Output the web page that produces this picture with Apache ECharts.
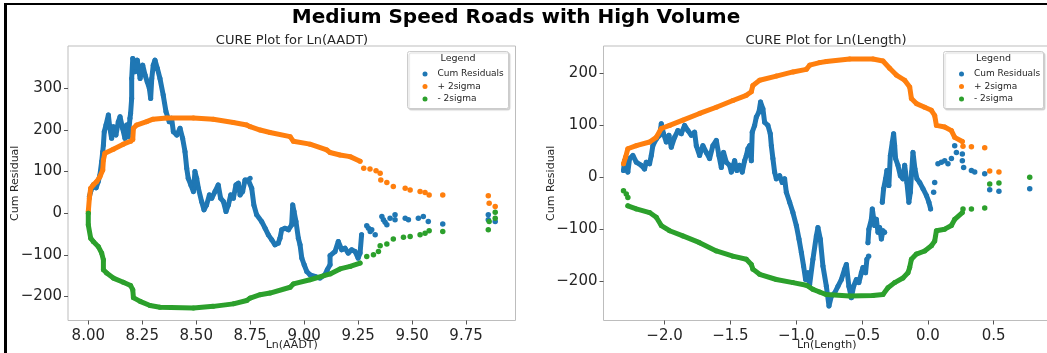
<!DOCTYPE html>
<html>
<head>
<meta charset="utf-8">
<script src="https://cdn.jsdelivr.net/npm/echarts@6/dist/echarts.min.js"></script>
<style>
  html, body { margin: 0; padding: 0; background: #fff; }
  #chart { width: 1047px; height: 353px; }
</style>
</head>
<body>
<div id="chart"></div>
<script>
// ---- data ----
// left panel: Ln(AADT)
var aadtTicks = [8.00, 8.25, 8.50, 8.75, 9.00, 9.25, 9.50, 9.75];
var aadtResidTicks = [-200, -100, 0, 100, 200, 300];

var aadtResid = [[8.005,40],[8.011,52],[8.023,68],[8.036,61],[8.046,76],[8.054,92],[8.062,124],[8.067,148],[8.070,164],[8.074,196],[8.082,212],[8.093,236],[8.100,204],[8.108,180],[8.116,208],[8.128,188],[8.139,220],[8.147,232],[8.159,204],[8.170,180],[8.178,212],[8.185,184],[8.193,228],[8.196,240],[8.201,276],[8.201,324],[8.206,372],[8.216,340],[8.227,368],[8.240,324],[8.252,356],[8.263,332],[8.273,316],[8.283,300],[8.289,276],[8.294,324],[8.301,356],[8.309,368],[8.320,348],[8.332,324],[8.347,284],[8.360,244],[8.375,220],[8.386,228],[8.394,196],[8.410,188],[8.425,204],[8.437,180],[8.448,148],[8.456,108],[8.463,84],[8.475,68],[8.487,52],[8.494,100],[8.502,84],[8.510,60],[8.525,28],[8.536,8],[8.548,20],[8.561,44],[8.572,36],[8.587,52],[8.602,68],[8.613,36],[8.626,28],[8.638,4],[8.649,20],[8.660,44],[8.672,36],[8.684,68],[8.695,72],[8.703,44],[8.715,52],[8.726,80],[8.741,80],[8.750,84],[8.757,60],[8.767,20],[8.780,-4],[8.803,-20],[8.819,-36],[8.834,-52],[8.850,-64],[8.865,-76],[8.880,-72],[8.888,-60],[8.896,-40],[8.911,-36],[8.927,-40],[8.942,-28],[8.947,20],[8.953,4],[8.962,-20],[8.973,-60],[8.981,-76],[8.989,-108],[9.000,-124],[9.012,-140],[9.027,-148],[9.050,-152],[9.073,-156],[9.096,-148],[9.107,-136],[9.120,-124],[9.120,-102],[9.143,-92],[9.158,-68],[9.174,-88],[9.189,-84],[9.204,-96],[9.220,-88],[9.236,-92],[9.250,-108],[9.259,-96],[9.266,-52]];
var aadtResidDots = [[9.290,-30],[9.298,-36],[9.306,-44],[9.313,-40],[9.329,-52],[9.360,-8],[9.367,-16],[9.375,-22],[9.383,-28],[9.398,-12],[9.421,-4],[9.421,-16],[9.468,-12],[9.483,-16],[9.529,-12],[9.552,-8],[9.575,-20],[9.642,-26],[9.853,-4],[9.853,-16],[9.885,-20]];

var aadtUpper = [[8.000,4],[8.005,36],[8.011,60],[8.023,68],[8.039,76],[8.054,88],[8.067,104],[8.070,128],[8.077,144],[8.116,154],[8.162,166],[8.196,173],[8.206,177],[8.209,204],[8.224,212],[8.270,220],[8.300,226],[8.363,229],[8.487,229],[8.579,226],[8.672,218],[8.734,212],[8.750,208],[8.796,200],[8.842,194],[8.935,184],[8.950,173],[9.027,166],[9.105,152],[9.120,146],[9.166,140],[9.213,136],[9.259,125]];
var aadtUpperDots = [[9.276,108],[9.305,106],[9.333,102],[9.352,96],[9.355,80],[9.383,74],[9.413,64],[9.468,60],[9.491,56],[9.537,52],[9.560,50],[9.579,44],[9.642,44],[9.853,42],[9.857,24],[9.885,16]];

var aadtLower = [[8.000,0],[8.000,-28],[8.011,-60],[8.023,-68],[8.046,-80],[8.062,-96],[8.070,-112],[8.070,-136],[8.085,-144],[8.116,-156],[8.162,-166],[8.196,-174],[8.206,-184],[8.209,-203],[8.240,-212],[8.286,-222],[8.332,-226],[8.487,-228],[8.579,-224],[8.672,-218],[8.734,-210],[8.750,-204],[8.796,-196],[8.842,-192],[8.935,-178],[8.950,-170],[9.027,-160],[9.120,-146],[9.166,-134],[9.213,-128],[9.259,-120]];
var aadtLowerDots = [[9.290,-104],[9.321,-100],[9.344,-92],[9.352,-78],[9.383,-74],[9.413,-62],[9.460,-58],[9.491,-56],[9.537,-52],[9.560,-48],[9.579,-42],[9.642,-44],[9.853,-40],[9.857,-20],[9.885,-12],[9.885,2]];

// right panel: Ln(Length)
var lenTicks = [-2.0, -1.5, -1.0, -0.5, 0.0, 0.5];
var lenResidTicks = [-200, -100, 0, 100, 200];

var lenResidA = [[-2.312,13],[-2.304,32],[-2.279,10],[-2.266,36],[-2.241,42],[-2.215,29],[-2.177,23],[-2.152,16],[-2.139,29],[-2.114,26],[-2.101,42],[-2.089,61],[-2.063,74],[-2.038,81],[-2.025,103],[-2.008,84],[-1.987,68],[-1.967,81],[-1.949,58],[-1.924,77],[-1.899,90],[-1.873,84],[-1.848,100],[-1.823,90],[-1.797,81],[-1.772,87],[-1.759,61],[-1.734,42],[-1.709,61],[-1.683,48],[-1.658,36],[-1.633,61],[-1.607,71],[-1.587,42],[-1.569,19],[-1.552,48],[-1.531,29],[-1.506,23],[-1.493,10],[-1.468,32],[-1.451,13],[-1.430,23],[-1.410,10],[-1.392,32],[-1.379,42],[-1.367,55],[-1.354,61],[-1.341,32],[-1.334,87],[-1.316,100],[-1.303,116],[-1.283,126],[-1.271,145],[-1.253,132],[-1.240,106],[-1.215,100],[-1.197,84],[-1.189,61],[-1.177,36],[-1.164,10],[-1.151,-3],[-1.126,3],[-1.106,-10],[-1.088,-3],[-1.075,-29],[-1.050,-48],[-1.025,-68],[-0.999,-93],[-0.979,-119],[-0.961,-145],[-0.944,-171],[-0.929,-197],[-0.911,-184],[-0.898,-207],[-0.873,-158],[-0.847,-113],[-0.835,-97],[-0.817,-119],[-0.797,-171],[-0.771,-210],[-0.751,-248],[-0.733,-229],[-0.708,-223],[-0.683,-210],[-0.657,-197],[-0.632,-177],[-0.619,-168],[-0.600,-210],[-0.581,-232],[-0.564,-210],[-0.543,-197],[-0.524,-203],[-0.505,-184],[-0.493,-174],[-0.473,-184],[-0.463,-158]];
var lenResidB = [[-0.455,-126],[-0.448,-100],[-0.429,-81],[-0.422,-61],[-0.404,-93],[-0.391,-81],[-0.379,-106],[-0.366,-97],[-0.353,-119],[-0.341,-103],[-0.328,-106]];
var lenResidC = [[-0.346,-48],[-0.336,-22],[-0.321,-3],[-0.311,13],[-0.296,-16],[-0.285,42],[-0.270,68],[-0.260,84],[-0.252,61],[-0.245,36],[-0.227,23],[-0.209,3],[-0.189,-3],[-0.176,23],[-0.159,-10],[-0.144,-48],[-0.133,-29],[-0.123,10],[-0.113,48],[-0.098,16],[-0.083,-3],[-0.062,-10],[-0.037,-22],[-0.011,-35],[0.008,-48],[0.021,-61]];
var lenResidDots = [[-0.450,-152],[0.044,-29],[0.052,-10],[0.077,26],[0.103,29],[0.128,32],[0.153,26],[0.179,36],[0.204,61],[0.217,48],[0.262,45],[0.262,32],[0.272,19],[0.331,13],[0.356,10],[0.432,7],[0.470,-24],[0.540,-27],[0.774,-22]];

var lenUpper = [[-2.312,26],[-2.296,39],[-2.279,55],[-2.215,61],[-2.114,68],[-2.063,77],[-2.025,94],[-1.962,100],[-1.861,110],[-1.734,123],[-1.607,135],[-1.481,148],[-1.379,158],[-1.341,165],[-1.329,177],[-1.278,187],[-1.151,195],[-1.025,203],[-0.923,208],[-0.898,216],[-0.822,221],[-0.771,223],[-0.594,228],[-0.417,228],[-0.341,224],[-0.290,210],[-0.239,197],[-0.176,187],[-0.138,174],[-0.125,152],[-0.087,142],[-0.024,135],[0.027,129],[0.052,119],[0.065,100],[0.128,97],[0.179,90],[0.204,77],[0.262,69]];
var lenUpperDots = [[0.267,60],[0.331,59],[0.432,57],[0.470,12],[0.540,10]];

var lenLower = [[-2.279,-55],[-2.215,-61],[-2.114,-68],[-2.063,-77],[-2.025,-93],[-1.962,-103],[-1.861,-113],[-1.734,-126],[-1.607,-142],[-1.481,-152],[-1.379,-158],[-1.341,-168],[-1.329,-177],[-1.278,-187],[-1.151,-197],[-1.025,-203],[-0.923,-208],[-0.873,-216],[-0.822,-221],[-0.771,-226],[-0.594,-229],[-0.417,-228],[-0.341,-226],[-0.303,-213],[-0.252,-203],[-0.189,-194],[-0.151,-184],[-0.138,-174],[-0.125,-158],[-0.087,-148],[-0.024,-142],[0.027,-132],[0.052,-123],[0.065,-103],[0.128,-100],[0.179,-93],[0.204,-81],[0.262,-68]];
var lenLowerDots = [[-2.312,-26],[-2.291,-32],[-2.279,-39],[0.267,-61],[0.331,-61],[0.432,-59],[0.470,-13],[0.540,-11],[0.774,0]];

var names = ['Cum Residuals', '+ 2sigma', '- 2sigma'];
var colors = ['#1f77b4', '#ff7f0e', '#2ca02c'];

// ---- chart ----
var FONT = 'DejaVu Sans';
var INK = '#262626';

function fmt(v, d) {
	return v.toFixed(d).replace('-', '\u2212');
}

// dense runs of points: joined so they read as a band of dots
function run(data, k, gi) {
	return {
		type: 'line', name: names[k], xAxisIndex: gi, yAxisIndex: gi, data: data,
		symbol: 'circle', symbolSize: 5, showSymbol: true, showAllSymbol: true,
		lineStyle: { width: 5, color: colors[k], cap: 'round', join: 'round' },
		itemStyle: { color: colors[k] },
		z: 2 + k, animation: false, silent: true
	};
}

function dots(data, k, gi) {
	return {
		type: 'scatter', name: names[k], xAxisIndex: gi, yAxisIndex: gi, data: data,
		symbolSize: 5.5, itemStyle: { color: colors[k], opacity: 1 },
		z: 2 + k, animation: false, silent: true
	};
}

function xAxis(gi, min, max, ticks, dec, title) {
	return {
		type: 'value', gridIndex: gi, min: min, max: max, position: 'bottom',
		axisLine: { show: false, onZero: false }, splitLine: { show: false },
		axisTick: { show: true, customValues: ticks, length: 4, lineStyle: { color: '#555' } },
		axisLabel: { customValues: ticks, formatter: function(v) { return fmt(v, dec); },
			fontSize: 15, color: INK, fontFamily: FONT, margin: 8 },
		name: title, nameLocation: 'middle', nameGap: 19, nameMoveOverlap: false,
		nameTextStyle: { fontSize: 11, color: INK, fontFamily: FONT }
	};
}

function yAxis(gi, min, max, ticks) {
	return {
		type: 'value', gridIndex: gi, min: min, max: max, position: 'left',
		axisLine: { show: false, onZero: false }, splitLine: { show: false },
		axisTick: { show: true, customValues: ticks, length: 4, lineStyle: { color: '#555' } },
		axisLabel: { customValues: ticks, formatter: function(v) { return fmt(v, 0); },
			fontSize: 15, color: INK, fontFamily: FONT, margin: 6 },
		name: 'Cum Residual', nameLocation: 'middle', nameGap: 47, nameMoveOverlap: false,
		nameTextStyle: { fontSize: 11, color: INK, fontFamily: FONT }
	};
}

function legend(left) {
	return {
		data: names, orient: 'vertical', left: left, top: 63,
		icon: 'circle', itemWidth: 5, itemHeight: 5, itemGap: 0.5,
		selectedMode: false, z: 10,
		textStyle: { fontSize: 9, color: INK, fontFamily: FONT, lineHeight: 12, padding: [0, 0, 0, 5] }
	};
}

function legendFrame(x, w) {
	return [
		{ type: 'rect', shape: { x: x, y: 51.5, width: w, height: 57, r: 2 }, z: 8, silent: true,
			style: { fill: '#fff', stroke: '#cccccc', lineWidth: 1,
				shadowColor: 'rgba(0,0,0,0.15)', shadowOffsetX: 1.5, shadowOffsetY: 1.5, shadowBlur: 1 } },
		{ type: 'text', x: x + w / 2, y: 59, z: 9, silent: true,
			style: { text: 'Legend', fontSize: 9.5, fill: INK, fontFamily: FONT, align: 'center', verticalAlign: 'middle' } }
	];
}

var option = {
	backgroundColor: '#fff',
	animation: false,
	title: [
		{ text: 'Medium Speed Roads with High Volume', left: 516, top: 8, textAlign: 'center', padding: 0,
			textStyle: { fontSize: 20, fontWeight: 'bold', color: '#000', fontFamily: FONT } },
		{ text: 'CURE Plot for Ln(AADT)', left: 292, top: 34, textAlign: 'center', padding: 0,
			textStyle: { fontSize: 13, fontWeight: 'normal', color: INK, fontFamily: FONT } },
		{ text: 'CURE Plot for Ln(Length)', left: 826, top: 34, textAlign: 'center', padding: 0,
			textStyle: { fontSize: 13, fontWeight: 'normal', color: INK, fontFamily: FONT } }
	],
	grid: [
		{ left: 68, top: 46, width: 447.5, height: 274.5, show: true, borderColor: '#bdbdbd', borderWidth: 1,
			containLabel: false, outerBoundsMode: 'none' },
		{ left: 603.5, top: 46, width: 446.5, height: 274.5, show: true, borderColor: '#bdbdbd', borderWidth: 1,
			containLabel: false, outerBoundsMode: 'none' }
	],
	xAxis: [
		xAxis(0, 7.906, 9.979, aadtTicks, 2, 'Ln(AADT)'),
		xAxis(1, -2.464, 0.928, lenTicks, 1, 'Ln(Length)')
	],
	yAxis: [
		yAxis(0, -258, 402, aadtResidTicks),
		yAxis(1, -276, 253, lenResidTicks)
	],
	legend: [legend(417.5), legend(954)],
	graphic: [].concat(
		legendFrame(407.5, 101),
		legendFrame(943.5, 100),
		[
			{ type: 'line', shape: { x1: 4, y1: 4, x2: 1047, y2: 4 }, style: { stroke: '#000', lineWidth: 2 }, z: 20, silent: true },
			{ type: 'line', shape: { x1: 5.5, y1: 3, x2: 5.5, y2: 353 }, style: { stroke: '#000', lineWidth: 3 }, z: 20, silent: true }
		]
	),
	series: [
		run(aadtResid, 0, 0), dots(aadtResidDots, 0, 0),
		run(aadtUpper, 1, 0), dots(aadtUpperDots, 1, 0),
		run(aadtLower, 2, 0), dots(aadtLowerDots, 2, 0),
		run(lenResidA, 0, 1), run(lenResidB, 0, 1), run(lenResidC, 0, 1), dots(lenResidDots, 0, 1),
		run(lenUpper, 1, 1), dots(lenUpperDots, 1, 1),
		run(lenLower, 2, 1), dots(lenLowerDots, 2, 1)
	]
};

var chart = echarts.init(document.getElementById('chart'), null, { renderer: 'canvas' });
chart.setOption(option);
</script>
</body>
</html>
